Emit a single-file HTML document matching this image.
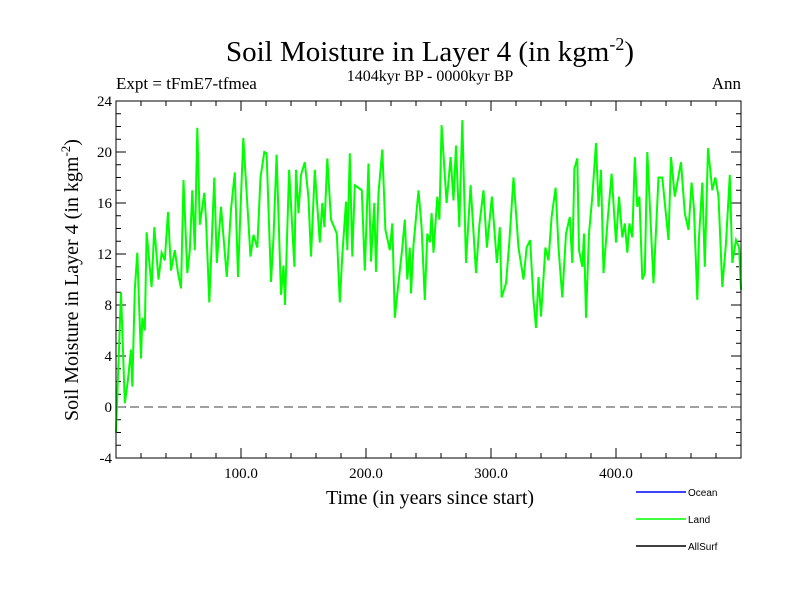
<!DOCTYPE html>
<html><head><meta charset="utf-8"><style>
html,body{margin:0;padding:0;background:#fff}
svg{display:block}
text{font-family:"Liberation Serif",serif;fill:#000}
.legend text{font-family:"Liberation Sans",sans-serif;font-size:10px}
</style></head><body>
<svg id="chart" width="800" height="600" viewBox="0 0 800 600" xmlns="http://www.w3.org/2000/svg">
<text x="430" y="61" font-size="29" text-anchor="middle">Soil Moisture in Layer 4 (in kgm<tspan dy="-11" font-size="18">-2</tspan><tspan dy="11">)</tspan></text>
<text x="430" y="81" font-size="16" text-anchor="middle">1404kyr BP - 0000kyr BP</text>
<text x="116" y="89" font-size="17">Expt = tFmE7-tfmea</text>
<text x="741" y="89" font-size="17" text-anchor="end">Ann</text>
<text transform="translate(78,280) rotate(-90)" font-size="20" text-anchor="middle">Soil Moisture in Layer 4 (in kgm<tspan dy="-8" font-size="13">-2</tspan><tspan dy="8">)</tspan></text>
<text x="430" y="504" font-size="20" text-anchor="middle">Time (in years since start)</text>
<g id="ticks"></g>
<line id="zero" stroke="#808080" stroke-width="1.5" stroke-dasharray="9,5"/>
<polyline id="series" fill="none" stroke="#00ff00" stroke-width="2"/>
<rect x="116" y="101" width="625" height="357" fill="none" stroke="#000" stroke-width="1"/>
<g class="legend">
<line x1="636" y1="492" x2="686" y2="492" stroke="#0000ff" stroke-width="1.5"/>
<text x="688" y="496">Ocean</text>
<line x1="636" y1="519" x2="686" y2="519" stroke="#00ff00" stroke-width="1.5"/>
<text x="688" y="523">Land</text>
<line x1="636" y1="546" x2="686" y2="546" stroke="#000" stroke-width="1.5"/>
<text x="688" y="550">AllSurf</text>
</g>
</svg>
<script>
const years=[0,4,7,9.5,12,13,15,17,20,21,23,24.5,28.5,30.6,34,36.5,39,41.6,44,47,49.6,52,54,57,59,61,63,65,67,70.6,72,74.6,78.6,80.6,84,88.6,92,95,97.6,99.6,101.8,107.6,110,113,115.6,118.6,120.5,124,126,128.5,132,134,135.2,138.5,142.7,144,146,148,151,153.9,156,159,163,165,166.7,169,172,176.6,179,181,184,185,187,189,191,196.6,199,202,204,206.6,208,210,213,215.5,219,221,223,225.6,229,231,233,235,236,238,242,244.5,247,249,251,252.5,254,257,258.7,260.5,264.5,267.7,270,272,274.6,277,280,283.7,288,290.7,294,296.7,300.7,304.7,307,308.5,312,314.6,318,322,326,328.5,331.3,334,336,338,340,343.5,346,348.5,351.7,354,357,360,363,365,366.7,369,370.4,373,374.4,376,378.4,381,384,386,388,390,393.5,396.5,400,402.4,405,407,409,410.7,413,415,417,418.7,421,423,425,428,430,434,437,439,442,444,447,452,455,458,460.5,462.4,465,466.4,469,471,473.6,477,479.4,482,485,488,491,493,496,498.5,500];
const landValues=[-2,9,0.3,2.1,4.5,1.6,9.2,12.1,3.8,7,6,13.7,9.4,14.1,10,12.1,11.5,15.3,10.7,12.3,10.5,9.3,17.8,10.5,12.3,17,12.3,21.9,14.3,16.8,14.7,8.2,18,11.3,15.7,10.2,15.5,18.4,10.2,15.5,21.1,11.8,13.5,12.5,18,20,19.9,9.8,13.3,19.8,8.8,11.1,8,18.6,11,18.6,15.2,18.2,19.2,16.5,11.8,18.6,12.9,16,14.1,19.5,14.7,13.6,8.2,11.9,16.1,12.3,19.9,11.8,17.4,17,10.7,19.1,11.4,16,10.6,16.8,20.2,13.9,12.3,14.4,7,9.4,12.5,14.7,10,12.5,8.9,12.7,17,14.1,8.4,13.6,12.9,15.2,12.1,16.5,14.7,22.1,16,19.6,16.2,20.5,14.1,22.5,11.3,17.4,10.5,14.3,17,12.5,16.5,11.3,14.1,8.6,9.7,12.9,18,12.5,10,12.5,13.1,8.4,6.2,10.2,7.1,12.5,11.5,14.9,17.2,12.5,8.6,13.6,14.9,11.3,18.7,19.5,12.3,11,13.6,7,13.6,16.5,20.7,15.7,18.6,10.5,14.9,18.3,12.9,16.5,13.3,14.4,12.1,14.4,13.3,19.6,15.7,16.5,10,10.5,20,13.9,9.7,18,18,16,13.1,19.6,16.5,19.2,15.2,13.9,17.6,15.5,8.4,13.3,17.6,11,20.3,17,18,16.5,9.4,12.9,18.2,11.3,13.1,12.5,9.2];
const yTickLabels=["-4","0","4","8","12","16","20","24"];
const xTickLabels=["100.0","200.0","300.0","400.0"];
const L=116,R=741,T=101,B=458,X0=0,X1=500,Y0=-4,Y1=24;
const sx=v=>L+(v-X0)/(X1-X0)*(R-L);
const sy=v=>B-(v-Y0)/(Y1-Y0)*(B-T);
const NS="http://www.w3.org/2000/svg";
const g=document.getElementById('ticks');
function ln(x1,y1,x2,y2,name){const l=document.createElementNS(NS,'line');
l.setAttribute('x1',x1);l.setAttribute('y1',y1);l.setAttribute('x2',x2);l.setAttribute('y2',y2);
l.setAttribute('stroke','#000');l.setAttribute('stroke-width','1');


g.appendChild(l);}
function tx(x,y,s,anchor,name){const t=document.createElementNS(NS,'text');
t.setAttribute('x',x);t.setAttribute('y',y);t.setAttribute('font-size','15');t.setAttribute('text-anchor',anchor);t.textContent=s;


g.appendChild(t);}
for(let v=Y0;v<=Y1;v++){const y=sy(v);const major=(v%4===0);const len=major?10:5;
ln(L,y,L+len,y,'y-tick');ln(R-len,y,R,y,'y-tick-right');}
yTickLabels.forEach(s=>{const v=parseFloat(s);tx(L-4,sy(v)+5,s,'end','y-tick-label');});
for(let v=20;v<X1;v+=20){const x=sx(v);const major=(v%100===0);const len=major?10:5;
ln(x,B,x,B-len,'x-tick');ln(x,T,x,T+len,'x-tick-top');}
xTickLabels.forEach(s=>{const v=parseFloat(s);tx(sx(v),B+20,s,'middle','x-tick-label');});
const z=document.getElementById('zero');
z.setAttribute('x1',L);z.setAttribute('x2',R);z.setAttribute('y1',sy(0));z.setAttribute('y2',sy(0));
document.getElementById('series').setAttribute('points',years.map((yr,i)=>sx(yr).toFixed(1)+','+sy(landValues[i]).toFixed(1)).join(' '));
</script>
</body></html>
